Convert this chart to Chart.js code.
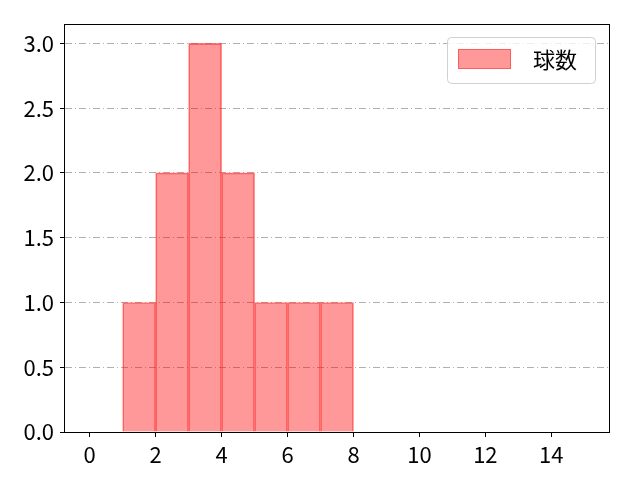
<!DOCTYPE html>
<html>
<head>
<meta charset="utf-8">
<script src="https://cdn.jsdelivr.net/npm/chart.js@4"></script>
<style>
  html, body { margin: 0; padding: 0; background: #fff; }
  #wrap { width: 640px; height: 480px; }
</style>
</head>
<body>
<div id="wrap"><canvas id="myChart"></canvas></div>
<script>
// histogram bins (left edges, width 1) and counts
const binStarts = [0, 1, 2, 3, 4, 5, 6, 7, 8, 9, 10, 11, 12, 13, 14];
const counts = [0, 1, 2, 3, 2, 1, 1, 1, 0, 0, 0, 0, 0, 0, 0];
const xTicks = [0, 2, 4, 6, 8, 10, 12, 14];
const yTicks = [0, 0.5, 1.0, 1.5, 2.0, 2.5, 3.0];
const seriesLabel = '球数';

const FONT = '"Noto Sans CJK JP", "DejaVu Sans", sans-serif';

// frame around plot area + legend box inside (matplotlib style)
const framePlugin = {
  id: 'frame',
  afterDraw(chart) {
    const { ctx, chartArea: a } = chart;
    ctx.save();
    ctx.strokeStyle = '#000';
    ctx.lineWidth = 1;
    ctx.strokeRect(Math.round(a.left) - 0.5, Math.round(a.top) + 0.5,
      Math.round(a.right - a.left) + 1, Math.round(a.bottom - a.top));

    // legend
    const x = a.right - 162, y = a.top + 13, w = 148, h = 46;
    ctx.beginPath();
    ctx.roundRect(x + 0.5, y + 0.5, w, h, 4);
    ctx.fillStyle = 'rgba(255,255,255,0.8)';
    ctx.fill();
    ctx.strokeStyle = '#d0d0d0';
    ctx.stroke();
    ctx.fillStyle = 'rgba(255,0,0,0.4)';
    ctx.fillRect(x + 11, y + 12, 53, 20);
    ctx.strokeStyle = 'rgba(255,0,0,0.4)';
    ctx.strokeRect(x + 11.5, y + 12.5, 52, 19);
    ctx.fillStyle = '#000';
    ctx.font = '22px ' + FONT;
    ctx.textBaseline = 'middle';
    ctx.fillText(seriesLabel, x + 86, y + 23);
    ctx.restore();
  }
};

const ctx = document.getElementById('myChart');
new Chart(ctx, {
  type: 'bar',
  data: {
    datasets: [{
      label: seriesLabel,
      data: binStarts.map((b, i) => ({ x: b + 0.5, y: counts[i] })),
      backgroundColor: 'rgba(255,0,0,0.4)',
      borderColor: 'rgba(255,40,40,0.6)',
      borderWidth: 1,
      borderSkipped: 'bottom',
      barPercentage: 1,
      categoryPercentage: 1
    }]
  },
  options: {
    responsive: true,
    maintainAspectRatio: false,
    animation: false,
    events: [],
    layout: { padding: { top: 24, right: 31, left: 0, bottom: 0 } },
    plugins: {
      legend: { display: false },
      tooltip: { enabled: false }
    },
    scales: {
      x: {
        type: 'linear',
        min: -0.75,
        max: 15.75,
        offset: false,
        afterBuildTicks: s => { s.ticks = xTicks.map(v => ({ value: v })); },
        afterFit: s => { s.height = 48; },
        grid: { offset: false, drawOnChartArea: false, drawTicks: true, tickLength: 5, tickColor: '#000' },
        border: { display: false },
        ticks: {
          color: '#000',
          padding: 4,
          maxRotation: 0,
          font: { family: FONT, size: 22 },
          callback: v => String(v)
        }
      },
      y: {
        min: 0,
        max: 3.15,
        afterBuildTicks: s => { s.ticks = yTicks.map(v => ({ value: v })); },
        afterFit: s => { s.width = 65; },
        grid: {
          color: '#b0b0b0',
          lineWidth: 1,
          drawTicks: true,
          tickLength: 5,
          tickColor: '#000'
        },
        border: { display: false, dash: [7, 3, 1, 3] },
        ticks: {
          color: '#000',
          padding: 6,
          font: { family: FONT, size: 22 },
          callback: v => Number(v).toFixed(1)
        }
      }
    }
  },
  plugins: [framePlugin]
});
</script>
</body>
</html>
